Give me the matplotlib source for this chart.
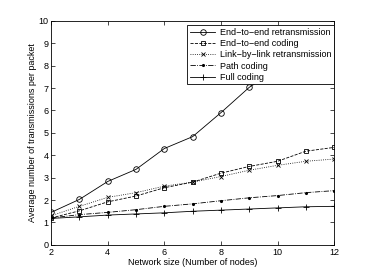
import numpy as np
import matplotlib
matplotlib.use("Agg")
import matplotlib.pyplot as plt

plt.rcParams["font.family"] = ["Liberation Sans", "DejaVu Sans"]

# Tamanho da rede (número de nós)
nodes = [2, 3, 4, 5, 6, 7, 8, 9, 10, 11, 12]

e2e_retx = [1.45, 2.03, 2.83, 3.37, 4.30, 4.83, 5.90, 7.03, 7.85, 8.65, 9.38]
e2e_coding = [1.20, 1.52, 1.92, 2.18, 2.55, 2.80, 3.20, 3.50, 3.73, 4.18, 4.35]
link_retx = [1.30, 1.72, 2.12, 2.33, 2.62, 2.80, 3.05, 3.33, 3.55, 3.73, 3.83]
path_coding = [1.20, 1.35, 1.45, 1.57, 1.72, 1.83, 1.97, 2.10, 2.20, 2.33, 2.42]
full_coding = [1.18, 1.25, 1.33, 1.38, 1.43, 1.50, 1.55, 1.60, 1.65, 1.70, 1.72]

labels = ["End\u2212to\u2212end retransmission", "End\u2212to\u2212end coding",
          "Link\u2212by\u2212link retransmission", "Path coding", "Full coding"]

fig = plt.figure(figsize=(3.68, 2.77), dpi=100)
ax = fig.add_axes([0.139, 0.116, 0.769, 0.809])

lw = 0.6
ax.plot(nodes, e2e_retx, "-", color="black", lw=lw, marker="o", ms=4, mfc="none", mew=0.6, label=labels[0])
ax.plot(nodes, e2e_coding, "--", color="black", lw=lw, marker="s", ms=3.5, mfc="none", mew=0.6, label=labels[1])
ax.plot(nodes, link_retx, ":", color="black", lw=lw, marker="x", ms=3.5, mew=0.6, label=labels[2])
ax.plot(nodes, path_coding, "-.", color="black", lw=lw, marker=".", ms=2.5, label=labels[3])
ax.plot(nodes, full_coding, "-", color="black", lw=lw, marker="+", ms=4.5, mew=0.6, label=labels[4])

ax.set_xlim(2, 12)
ax.set_ylim(0, 10)
ax.set_xticks(range(2, 13, 2))
ax.set_yticks(range(0, 11))
ax.tick_params(direction="in", top=True, right=True, labelsize=6.5, length=3, width=0.5, pad=2)
for s in ax.spines.values():
    s.set_linewidth(0.6)

ax.set_xlabel("Network size (Number of nodes)", fontsize=6.5, labelpad=1)
ax.set_ylabel("Average number of transmissions per packet", fontsize=6.5, labelpad=1)

leg = ax.legend(loc="upper right", bbox_to_anchor=(1.0, 0.981), fontsize=6.5, frameon=True,
                fancybox=False, edgecolor="black", framealpha=1, borderpad=0.3,
                labelspacing=0.25, handlelength=2.8, handletextpad=0.5, borderaxespad=0)
leg.get_frame().set_linewidth(0.6)

plt.savefig("out.png", dpi=100)
